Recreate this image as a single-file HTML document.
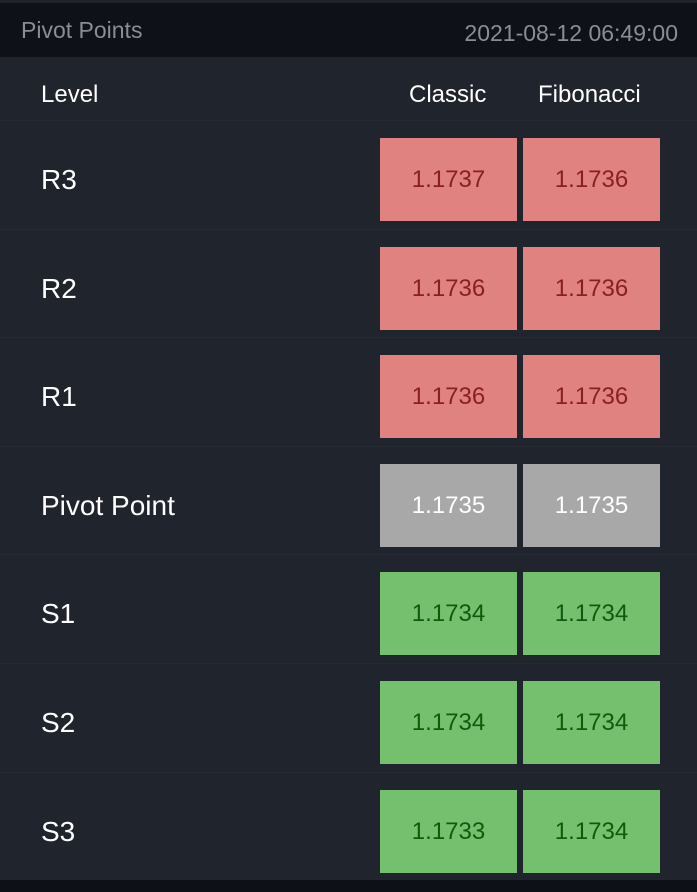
<!DOCTYPE html>
<html><head><style>
body{margin:0;width:697px;height:892px;background:#0d1016;font-family:"Liberation Sans",sans-serif;position:relative;overflow:hidden}
.top{position:absolute;left:0;top:0;width:697px;height:3px;background:#1f232b}
.hdr{position:absolute;left:0;top:3px;width:697px;height:54px;background:#0e1117;color:#8a8d92;font-size:23px}
.hdr .l{position:absolute;left:21px;top:14px}
.hdr .r{position:absolute;right:19px;top:17px}
.body{position:absolute;left:0;top:57px;width:697px;height:823px;background:#20242c}
.th{position:absolute;top:81px;color:#fff;font-size:24px}
.row{position:absolute;left:0;width:697px;height:108px;border-top:1px solid #262a32}
.row .n{position:absolute;left:41px;top:43px;color:#fff;font-size:28px}
.c{position:absolute;top:17px;width:137px;height:83px;font-size:24px;text-align:center;line-height:84px}
.c1{left:380px}.c2{left:523px}
.red{background:#df8280;color:#8a1f1f}
.gry{background:#a8a8a8;color:#fff}
.grn{background:#75c06e;color:#0f5a0f}
</style></head><body>
<div class="top"></div>
<div class="hdr"><span class="l">Pivot Points</span><span class="r">2021-08-12 06:49:00</span></div>
<div class="body"></div>
<div class="th" style="left:409px">Classic</div>
<div class="th" style="left:41px">Level</div>
<div class="th" style="left:538px">Fibonacci</div>
<div class="row" style="top:120px"><span class="n">R3</span><div class="c c1 red">1.1737</div><div class="c c2 red">1.1736</div></div>
<div class="row" style="top:228.6px"><span class="n">R2</span><div class="c c1 red">1.1736</div><div class="c c2 red">1.1736</div></div>
<div class="row" style="top:337.2px"><span class="n">R1</span><div class="c c1 red">1.1736</div><div class="c c2 red">1.1736</div></div>
<div class="row" style="top:445.8px"><span class="n">Pivot Point</span><div class="c c1 gry">1.1735</div><div class="c c2 gry">1.1735</div></div>
<div class="row" style="top:554.4px"><span class="n">S1</span><div class="c c1 grn">1.1734</div><div class="c c2 grn">1.1734</div></div>
<div class="row" style="top:663px"><span class="n">S2</span><div class="c c1 grn">1.1734</div><div class="c c2 grn">1.1734</div></div>
<div class="row" style="top:771.6px"><span class="n">S3</span><div class="c c1 grn">1.1733</div><div class="c c2 grn">1.1734</div></div>
</body></html>
